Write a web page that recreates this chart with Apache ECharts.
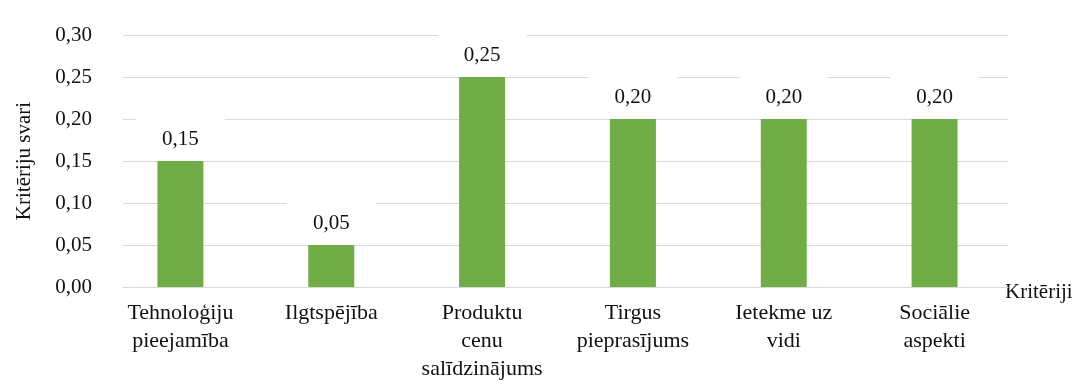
<!DOCTYPE html>
<html>
<head>
<meta charset="utf-8">
<script src="https://cdn.jsdelivr.net/npm/echarts@6/dist/echarts.min.js"></script>
<style>
  html, body { margin: 0; padding: 0; background: #fff; }
  #chart { width: 1078px; height: 388px; }
</style>
</head>
<body>
<div id="chart"></div>
<script>
// Criteria and their weights
const categories = [
  'Tehnoloģiju\npieejamība',
  'Ilgtspējība',
  'Produktu\ncenu\nsalīdzinājums',
  'Tirgus\npieprasījums',
  'Ietekme uz\nvidi',
  'Sociālie\naspekti'
];
const weights = [0.15, 0.05, 0.25, 0.20, 0.20, 0.20];
const yTicks = { min: 0, max: 0.30, step: 0.05 };
const yTitle = 'Kritēriju svari';
const xTitle = 'Kritēriji';

const FONT = '"Liberation Serif", "Times New Roman", serif';
const TEXT = '#111';
const GRID_LINE = '#d9d9d9';
const comma = v => Number(v).toFixed(2).replace('.', ',');

const chart = echarts.init(document.getElementById('chart'), null, { renderer: 'canvas' });

chart.setOption({
  animation: false,
  backgroundColor: '#fff',
  textStyle: { fontFamily: FONT, color: TEXT },
  grid: [
    // value axis, gridlines and axis titles
    { left: 123, right: 70, top: 35, bottom: 101 },
    // bars and category labels
    { left: 105, right: 68, top: 35, bottom: 101 }
  ],
  xAxis: [
    {
      gridIndex: 0,
      type: 'category',
      data: categories,
      axisLine: { show: true, lineStyle: { color: GRID_LINE, width: 1 } },
      axisTick: { show: false },
      axisLabel: { show: false },
      name: xTitle,
      nameLocation: 'end',
      nameGap: -3,
      nameTextStyle: {
        fontFamily: FONT, fontSize: 21, color: TEXT,
        align: 'left', verticalAlign: 'top', lineHeight: 11
      }
    },
    {
      gridIndex: 1,
      type: 'category',
      data: categories,
      axisLine: { show: false },
      axisTick: { show: false },
      axisLabel: {
        interval: 0,
        margin: 12,
        fontFamily: FONT,
        fontSize: 22,
        lineHeight: 28,
        color: TEXT,
        align: 'center'
      }
    }
  ],
  yAxis: [
    {
      gridIndex: 0,
      type: 'value',
      min: yTicks.min,
      max: yTicks.max,
      interval: yTicks.step,
      axisLine: { show: false },
      axisTick: { show: false },
      axisLabel: {
        margin: 31,
        fontFamily: FONT,
        fontSize: 21,
        color: TEXT,
        formatter: comma
      },
      splitLine: { show: true, lineStyle: { color: GRID_LINE, width: 1 } },
      name: yTitle,
      nameLocation: 'middle',
      nameRotate: 90,
      nameGap: 88,
      nameTextStyle: { fontFamily: FONT, fontSize: 21, color: TEXT }
    },
    {
      gridIndex: 1,
      type: 'value',
      min: yTicks.min,
      max: yTicks.max,
      interval: yTicks.step,
      show: false,
      splitLine: { show: false }
    }
  ],
  series: [
    {
      type: 'bar',
      xAxisIndex: 1,
      yAxisIndex: 1,
      z: 5,
      data: weights,
      barWidth: 46,
      itemStyle: { color: '#70AD47' },
      label: {
        show: true,
        position: 'top',
        distance: 2,
        fontFamily: FONT,
        fontSize: 21,
        color: TEXT,
        // white label box masks the gridlines behind the value
        backgroundColor: '#ffffff',
        padding: [12, 26, 9, 26],
        formatter: p => comma(p.value)
      }
    }
  ]
});
</script>
</body>
</html>
